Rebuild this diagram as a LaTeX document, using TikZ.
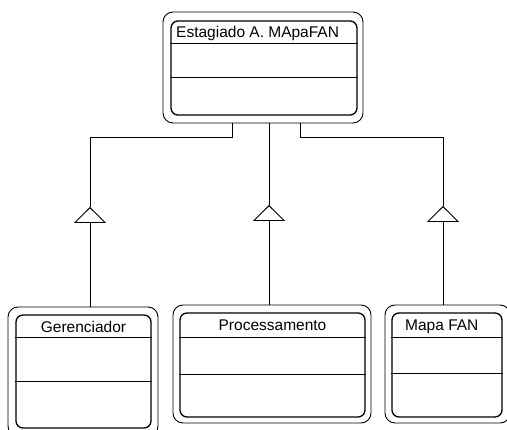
\documentclass[tikz,border=0pt]{standalone}
\usepackage{fontspec}
\setmainfont{Liberation Sans}
\usetikzlibrary{arrows.meta,positioning,fit}
\tikzset{outerbox/.style={draw, rounded corners=10pt, line width=0.9pt, inner sep=0pt},
         innerbox/.style={draw, rounded corners=7pt, line width=1.3pt, inner sep=0pt},
         sep/.style={line width=0.9pt},
         link/.style={line width=0.9pt},
         inherit/.style={link, -{Triangle[open, length=16pt, width=32pt, line width=0.9pt]}},
         title/.style={inner sep=0pt, font=\fontsize{15.5}{18}\selectfont}}
% class box: name, outer fit, inner fit, title line y, middle line y
\newcommand{\umlclass}[5]{%
  \node[outerbox, fit={#2}] (#1) {};
  \node[innerbox, fit={#3}] (#1-in) {};
  \draw[sep] (#1-in.west |- 0,#4) -- (#1-in.east |- 0,#4);
  \draw[sep] (#1-in.west |- 0,#5) -- (#1-in.east |- 0,#5);}

\begin{document}
\begin{tikzpicture}[x=1pt, y=-1pt]
  \useasboundingbox (0,0) rectangle (507,430);
  % classes
  \umlclass{est}{(163,12) (363,123)}{(171,21) (357,115)}{43}{77}
  \umlclass{ger}{(8,307) (158,436)}{(16,315) (151,428)}{337}{381}
  \umlclass{pro}{(173,305) (371,423)}{(180,313) (365,417)}{337}{374}
  \umlclass{map}{(385,305) (510,423)}{(392,313) (502,417)}{337}{373}
  \node[title, anchor=base west] (est-t) at (176,38) {Estagiado A. MApaFAN};
  \node[title, anchor=base] (ger-t) at (ger-in.north |- 0,333) {Gerenciador};
  \node[title, anchor=base] (pro-t) at (pro-in.north |- 0,331) {Processamento};
  \node[title, anchor=base west] (map-t) at (405,331) {Mapa FAN};
  % generalisation
  \coordinate (gerApex) at (90,207);
  \coordinate (proApex) at (269,205);
  \coordinate (mapApex) at (443,206);
  \coordinate (estL) at (est.south -| 232,0);
  \coordinate (estR) at (est.south -| 300,0);
  \draw[inherit] (ger.north -| gerApex) -- (gerApex);
  \draw[inherit] (pro.north -| proApex) -- (proApex);
  \draw[inherit] (map.north -| mapApex) -- (mapApex);
  \draw[link] (gerApex) |- ([yshift=-14pt]estL) -- (estL);
  \draw[link] (proApex) -- (est.south -| proApex);
  \draw[link] (mapApex) |- ([yshift=-14pt]estR) -- (estR);
\end{tikzpicture}
\end{document}
